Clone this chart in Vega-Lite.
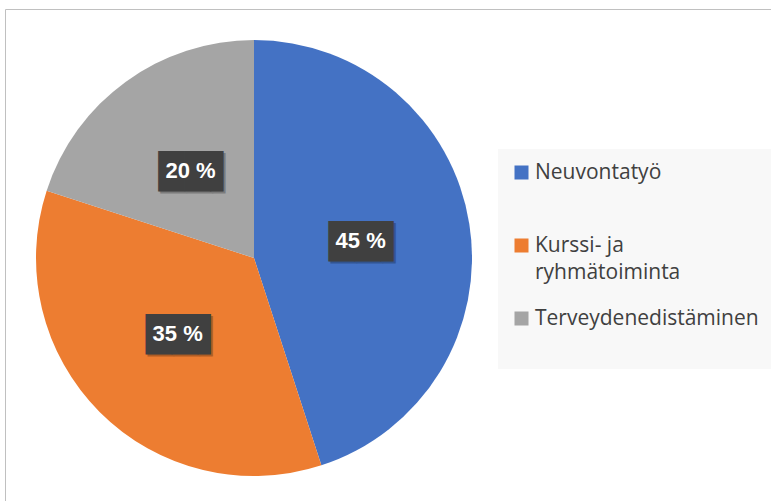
{
  "$schema": "https://vega.github.io/schema/vega-lite/v6.json",
  "width": 496,
  "height": 496,
  "autosize": {"type": "none"},
  "padding": {"left": 6, "top": 10, "right": 269, "bottom": 0},
  "background": "white",
  "config": {
    "view": {"stroke": null},
    "style": {"guide-label": {"lineHeight": 27}}
  },
  "data": {
    "values": [
      {"kategoria": "Neuvontatyö", "osuus": 45, "label": "45 %", "jarjestys": 1},
      {"kategoria": "Kurssi- ja ryhmätoiminta", "osuus": 35, "label": "35 %", "jarjestys": 2},
      {"kategoria": "Terveydenedistäminen", "osuus": 20, "label": "20 %", "jarjestys": 3}
    ]
  },
  "encoding": {
    "theta": {"field": "osuus", "type": "quantitative", "stack": true},
    "order": {"field": "jarjestys", "type": "quantitative"}
  },
  "layer": [
    {
      "mark": {"type": "arc", "outerRadius": 218},
      "encoding": {
        "color": {
          "field": "kategoria",
          "type": "nominal",
          "scale": {
            "domain": ["Neuvontatyö", "Kurssi- ja ryhmätoiminta", "Terveydenedistäminen"],
            "range": ["#4472C4", "#ED7D31", "#A5A5A5"]
          },
          "legend": {
            "title": null,
            "orient": "none",
            "legendX": 492,
            "legendY": 139,
            "fillColor": "#f8f8f8",
            "padding": 13,
            "symbolType": "square",
            "symbolSize": 196,
            "symbolStrokeWidth": 0,
            "labelFont": "Open Sans",
            "labelFontSize": 21,
            "labelColor": "#404040",
            "labelOffset": 3,
            "labelLimit": 400,
            "rowPadding": 24,
            "labelExpr": "datum.label == 'Kurssi- ja ryhmätoiminta' ? ['Kurssi- ja', 'ryhmätoiminta'] : [datum.label, ' ']"
          }
        }
      }
    },
    {
      "mark": {"type": "text", "text": ""},
      "encoding": {
        "opacity": {
          "field": "jarjestys",
          "type": "ordinal",
          "legend": {
            "title": null,
            "orient": "none",
            "legendX": -1,
            "legendY": -1,
            "padding": 420,
            "strokeColor": "#c0c0c0",
            "symbolOpacity": 0,
            "symbolSize": 0,
            "labelOpacity": 0,
            "labelFontSize": 1,
            "rowPadding": 0
          }
        }
      }
    },
    {
      "mark": {"type": "text", "radius": 108, "text": "██▌", "font": "DejaVu Sans", "fontSize": 34, "color": "#000000", "opacity": 0.25, "dx": 9, "dy": 4}
    },
    {
      "mark": {"type": "text", "radius": 108, "text": "██▌", "font": "DejaVu Sans", "fontSize": 34, "color": "#404040", "dx": 7, "dy": 2}
    },
    {
      "mark": {"type": "text", "radius": 108, "font": "Liberation Sans", "fontSize": 22, "fontWeight": "bold", "color": "white"},
      "encoding": {"text": {"field": "label"}}
    }
  ]
}
